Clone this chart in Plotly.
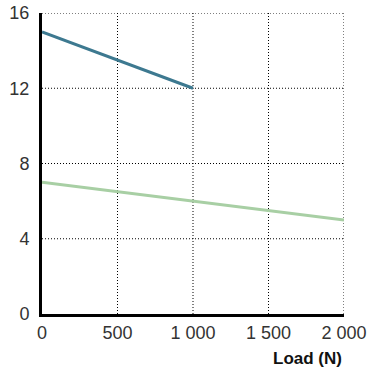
import plotly.graph_objects as go

load_a = [0, 1000]
value_a = [15, 12]
load_b = [0, 2000]
value_b = [7, 5]
x_ticks = [0, 500, 1000, 1500, 2000]
x_labels = ["0", "500", "1 000", "1 500", "2 000"]
y_ticks = [0, 4, 8, 12, 16]

fig = go.Figure()
fig.add_trace(go.Scatter(x=load_b, y=value_b, mode="lines",
                         line=dict(color="#a8cfa4", width=3), showlegend=False))
fig.add_trace(go.Scatter(x=load_a, y=value_a, mode="lines",
                         line=dict(color="#3d7990", width=3), showlegend=False))

for xv in x_ticks[1:]:
    fig.add_shape(type="line", x0=xv, x1=xv, y0=0, y1=16, xref="x", yref="y",
                  line=dict(color="black", width=1, dash="1px,2px"), layer="below")
for yv in y_ticks[1:]:
    fig.add_shape(type="line", x0=0, x1=2000, y0=yv, y1=yv, xref="x", yref="y",
                  line=dict(color="black", width=1, dash="1px,2px"), layer="below")

fig.update_layout(
    width=368, height=373,
    margin=dict(l=42, r=24, t=13, b=59, autoexpand=False),
    plot_bgcolor="white", paper_bgcolor="white",
    font=dict(family="Liberation Sans, Arial, sans-serif", size=18, color="#333333"),
    xaxis=dict(range=[0, 2000], tickvals=x_ticks, ticktext=x_labels,
               showgrid=False, zeroline=False, showline=True, linecolor="black",
               linewidth=3, ticks="", ticklabelstandoff=0, automargin=False),
    yaxis=dict(range=[0, 16], tickvals=y_ticks, showgrid=False, zeroline=False,
               showline=True, linecolor="black", linewidth=3, ticks="",
               ticklabelstandoff=6, automargin=False),
    annotations=[dict(text="<b>Load (N)</b>", x=1, xref="paper", xanchor="right",
                      y=-0.11, yref="paper", yanchor="top", showarrow=False,
                      font=dict(size=17, color="#111111"))],
)
fig.write_html("out.html", config={"displayModeBar": False},
               post_script="document.body.style.margin='0';")
